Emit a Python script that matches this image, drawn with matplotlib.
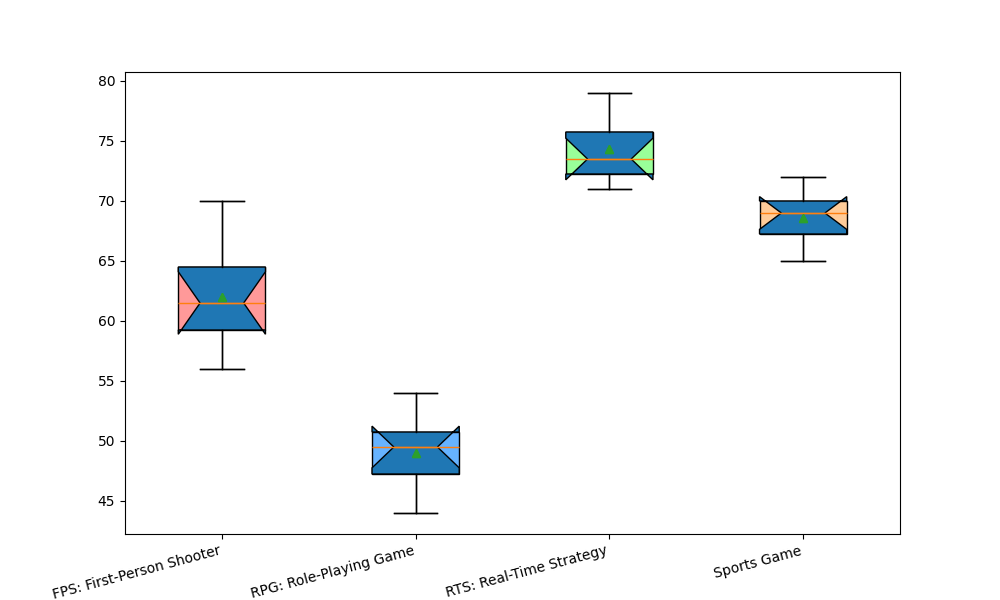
import matplotlib
matplotlib.use("Agg")
import matplotlib.pyplot as plt

genres = ["FPS: First-Person Shooter", "RPG: Role-Playing Game",
          "RTS: Real-Time Strategy", "Sports Game"]

fps = [56, 58, 59, 60, 61, 62, 63, 65, 66, 70]
rpg = [44, 45, 47, 48, 49, 50, 50, 51, 52, 54]
rts = [71, 72, 72, 73, 73, 74, 75, 76, 78, 79]
sports = [65, 66, 67, 68, 69, 69, 70, 70, 70, 72]

box_colors = ["#FF9999", "#66B3FF", "#99FF99", "#FFCC99"]

data = [fps, rpg, rts, sports]

fig, ax = plt.subplots(figsize=(10, 6), dpi=100)

# plain boxes in genre colours underneath
bp = ax.boxplot(data, patch_artist=True, showmeans=True)
for patch, c in zip(bp["boxes"], box_colors):
    patch.set_facecolor(c)

# notched boxes on top (default colours)
ax.boxplot(data, notch=True, patch_artist=True, showmeans=True)

ax.set_xticks(range(1, len(genres) + 1))
ax.set_xticklabels(genres, rotation=15, ha="right")

fig.savefig("out.png")
plt.close(fig)
